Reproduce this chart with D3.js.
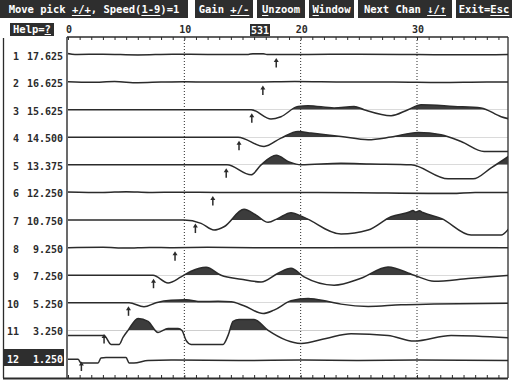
<!DOCTYPE html>
<html>
<head>
<meta charset="utf-8">
<script src="https://cdn.jsdelivr.net/npm/d3@7"></script>
<style>
  html, body { margin: 0; padding: 0; background: #fff; }
  svg { display: block; }
  text { font-family: "DejaVu Sans Mono", "Liberation Mono", monospace; font-weight: bold; }
</style>
</head>
<body>
<svg id="chart" width="512" height="388"></svg>
<script>
// Channel list, source offsets and picked first-arrival times
const channels = [1, 2, 3, 4, 5, 6, 7, 8, 9, 10, 11, 12];
const offsets = [17.625, 16.625, 15.625, 14.5, 13.375, 12.25, 10.75, 9.25, 7.25, 5.25, 3.25, 1.25];
const picks = [17.9, 16.75, 15.8, 14.7, 13.6, 12.45, 10.95, 9.2, 7.35, 5.2, 3.1, 1.15];
const selectedChannel = 12;
const cursorSample = 531;
const timeTicks = [0, 10, 20, 30];

// Trace samples: [time, amplitude] (positive = up)
const wave1 = [[0,1],[0.6,0],[3,0.3],[6,-0.4],[9,0.3],[12,0],[15.5,0],[15.9,0.8],[16.8,0.7],[17.1,0],[20,0],[25,0.3],[30,0],[34,-0.3],[38,0]];
const wave2 = [[0,0.4],[2,-0.2],[4,0.5],[6,-0.6],[8,0],[10,0.4],[12,0],[16,0],[19.5,0.5],[24,0],[28,0],[32,-0.5],[36,0],[38,0]];
const wave3 = [[0,0],[15.74,0],[17.45,-9.3],[18.31,-7],[19.78,3.3],[20.64,4],[22.87,1.7],[24.59,3.3],[25.45,0],[27.77,-6],[29.23,0],[30.35,5],[33.19,3.3],[35.51,1.7],[37.23,-7],[38,-9.5]];
const wave4 = [[0,0],[14.62,0],[16.85,-9.2],[18.31,-0.8],[19.78,5.8],[20.89,4.2],[23.47,0.8],[25.8,-2.5],[27.77,0.2],[30.1,4.8],[32.07,2.5],[33.79,-4.2],[35.77,-14.2],[38,-14.2]];
const wave5 = [[0,0],[13.67,0],[15.74,-10],[16.6,0],[17.9,9.5],[19.0,3],[20.03,0],[23.47,1.5],[26,0.8],[29.49,0],[32.67,-14],[34.82,-14],[36.37,-3],[38,9.5]];
const wave6 = [[0,0.5],[3,0],[5,0.8],[7,0],[10,0.3],[13,0],[20,0],[25,-0.3],[31,-1],[33,-1],[35,0],[38,0]];
const wave7 = [[0,0],[9.97,0],[11.44,-3.3],[12.55,-10],[13.41,-6.7],[15.13,10.7],[16.17,5],[17.2,-2.3],[18.06,1.7],[19.17,7.3],[20.29,2.7],[23.47,-14],[25.8,-10],[27.77,3.3],[29.4,8.3],[29.65,9.5],[29.9,8],[30.2,9.2],[30.5,7.5],[32.07,1.7],[34.65,-15],[37.23,-15],[38,-7]];
const wave8 = [[0,0],[3,0.3],[5,-0.4],[7,0.2],[9,0],[12,0.3],[16,0],[22,0],[30,0.2],[38,0]];
const wave9 = [[0,0],[7.31,0],[8.6,-7.7],[9.72,-1.7],[10.58,4],[11.87,8],[13.16,0],[14.88,-4],[16.6,-6.7],[18.06,2],[19.17,7],[20.29,-1.7],[22.87,-10],[25.19,-3],[27.51,8.3],[29.75,0],[31.47,-6],[34.39,-3.3],[38,0]];
const wave10 = [[0,0],[5.25,0],[6.53,-4],[7.57,0],[8.86,2.5],[10.15,3],[11.44,1.3],[12.9,1.5],[14.02,1],[15.13,-3],[16.77,-10.7],[17.71,-7.3],[19.17,2],[20.64,4.3],[22.36,1.3],[23.47,-1.3],[25.8,-3.7],[28.63,-2],[31.47,-1.3],[38,-0.5]];
const wave11 = [[0,-5],[3.1,-5],[3.7,-14],[4.39,-14],[4.73,-7],[5.16,0],[6.02,12],[6.88,9],[7.74,-2],[8.6,2],[9.46,2],[9.8,0],[10.15,-10],[10.58,-14],[13.33,-14],[13.76,-5],[14.19,9],[14.7,11],[15.99,11],[17.2,0],[20.03,-13],[22.18,-8],[24.33,-3.3],[27.51,-5],[29.75,-10.7],[32.93,-5],[38,-7.5]];
const wave12 = [[0,-1.3],[0.86,-1.3],[1.12,-5],[2.58,-5],[2.84,0],[3.27,0.4],[4.99,0.4],[5.25,-5],[5.67,-5],[6.88,-2.5],[8.86,-2],[15,-2.5],[20,-2],[25,-2.5],[30,-2],[38,-2.5]];
const waves = [wave1, wave2, wave3, wave4, wave5, wave6, wave7, wave8, wave9, wave10, wave11, wave12];

// Menu bar entries: label segments, underlined hot-key part flagged
const menuItems = [
  { x0: 0,   x1: 188, parts: [["Move pick ",0],["+/+",1],[", Speed(",0],["1-9",1],[")=1",0]] },
  { x0: 195, x1: 253, parts: [["Gain ",0],["+/-",1]] },
  { x0: 257, x1: 305, parts: [["U",1],["nzoom",0]] },
  { x0: 309, x1: 354, parts: [["W",1],["indow",0]] },
  { x0: 358, x1: 452, parts: [["Next Chan ",0],["↓/↑",1]] },
  { x0: 456, x1: 512, parts: [["Exit=",0],["Esc",1]] }
];

const svg = d3.select("#chart");
const ink = "#2b2b2b";
const plotL = 67, plotR = 508, plotT = 37, plotB = 378;

const x = d3.scaleLinear().domain([0, 30]).range([68, 417]);
const y = d3.scalePoint().domain(channels).range([54.5, 358]);
const amp = d3.scaleLinear().domain([0, 10]).range([0, -10]);

// ---- menu bar ----
const menuFont = 10.5, menuCh = menuFont * 0.602;
menuItems.forEach(item => {
  svg.append("rect").attr("x", item.x0).attr("y", 0)
    .attr("width", item.x1 - item.x0).attr("height", 18).attr("fill", "#2e2e2e");
  const nChars = item.parts.reduce((s, p) => s + [...p[0]].length, 0);
  let cx = item.x0 + ((item.x1 - item.x0) - nChars * menuCh) / 2;
  item.parts.forEach(([s, ul]) => {
    const len = [...s].length;
    svg.append("text").attr("x", cx).attr("y", 13).attr("fill", "#fff")
      .attr("font-size", menuFont).attr("xml:space", "preserve").text(s);
    if (ul) svg.append("line").attr("x1", cx).attr("x2", cx + len * menuCh)
      .attr("y1", 15.5).attr("y2", 15.5).attr("stroke", "#fff").attr("stroke-width", 1);
    cx += len * menuCh;
  });
});

// Help button
svg.append("rect").attr("x", 10).attr("y", 23).attr("width", 44).attr("height", 13).attr("fill", "#2e2e2e");
svg.append("text").attr("x", 13).attr("y", 33).attr("fill", "#fff").attr("font-size", menuFont).text("Help=?");
svg.append("line").attr("x1", 13 + 5 * menuCh).attr("x2", 13 + 6 * menuCh)
  .attr("y1", 34.5).attr("y2", 34.5).attr("stroke", "#fff");

// Sample cursor readout
svg.append("rect").attr("x", 250).attr("y", 24).attr("width", 20).attr("height", 12).attr("fill", "#2e2e2e");
svg.append("text").attr("x", 260).attr("y", 33.5).attr("text-anchor", "middle")
  .attr("fill", "#fff").attr("font-size", 10).text(cursorSample);

// ---- time axis labels and ticks ----
svg.selectAll("text.tlab").data(timeTicks).join("text").attr("class", "tlab")
  .attr("x", d => x(d) + 1).attr("y", 33).attr("text-anchor", "middle")
  .attr("font-size", 10).attr("fill", ink).text(d => d);

const minorTicks = d3.range(0, 38);
svg.append("g").attr("transform", `translate(0,${plotT})`)
  .call(d3.axisBottom(x).tickValues(minorTicks).tickSize(3).tickFormat(""))
  .call(g => g.select(".domain").remove())
  .call(g => g.selectAll("line").attr("stroke", ink));
svg.append("g").attr("transform", `translate(0,${plotB})`)
  .call(d3.axisTop(x).tickValues(minorTicks).tickSize(3).tickFormat(""))
  .call(g => g.select(".domain").remove())
  .call(g => g.selectAll("line").attr("stroke", ink));

// ---- frame ----
svg.append("line").attr("x1", plotL).attr("x2", plotR).attr("y1", plotT).attr("y2", plotT)
  .attr("stroke", ink).attr("stroke-width", 1.3);
svg.append("line").attr("x1", 3).attr("x2", plotR).attr("y1", plotB + 0.5).attr("y2", plotB + 0.5)
  .attr("stroke", ink).attr("stroke-width", 2);
svg.append("line").attr("x1", 3.5).attr("x2", 3.5).attr("y1", plotT + 1).attr("y2", plotB)
  .attr("stroke", ink).attr("stroke-width", 1.3);
svg.append("line").attr("x1", plotL).attr("x2", plotL).attr("y1", plotT).attr("y2", plotB)
  .attr("stroke", ink).attr("stroke-width", 1.4);
svg.append("line").attr("x1", plotR).attr("x2", plotR).attr("y1", plotT).attr("y2", plotB)
  .attr("stroke", ink).attr("stroke-width", 1.3);

// dotted time grid
svg.selectAll("line.grid").data(timeTicks.filter(d => d > 0)).join("line").attr("class", "grid")
  .attr("x1", d => x(d)).attr("x2", d => x(d)).attr("y1", plotT).attr("y2", plotB)
  .attr("stroke", ink).attr("stroke-width", 1).attr("stroke-dasharray", "1,2");

// ---- channel labels ----
const fmt = d3.format(".3f");
channels.forEach((c, i) => {
  const yy = y(c);
  const sel = c === selectedChannel;
  if (sel) svg.append("rect").attr("x", 3).attr("y", yy - 9).attr("width", 61).attr("height", 17).attr("fill", "#2e2e2e");
  const col = sel ? "#fff" : ink;
  svg.append("text").attr("x", 19).attr("y", yy + 5).attr("text-anchor", "end")
    .attr("font-size", 10).attr("fill", col).text(c);
  svg.append("text").attr("x", 63).attr("y", yy + 5).attr("text-anchor", "end")
    .attr("font-size", 10).attr("fill", col).text(fmt(offsets[i]));
});

// ---- traces (wiggle with filled positive lobes) ----
const defs = svg.append("defs");
defs.append("clipPath").attr("id", "plotClip").append("rect")
  .attr("x", plotL).attr("y", plotT).attr("width", plotR - plotL).attr("height", plotB - plotT);

const traces = svg.append("g").attr("clip-path", "url(#plotClip)");
waves.forEach((w, i) => {
  const base = y(channels[i]);
  const line = d3.line().x(d => x(d[0])).y(d => base + amp(d[1])).curve(d3.curveMonotoneX);
  const area = d3.area().x(d => x(d[0])).y0(base).y1(d => base + amp(d[1])).curve(d3.curveMonotoneX);
  const cid = "pos" + i;
  defs.append("clipPath").attr("id", cid).append("rect")
    .attr("x", plotL).attr("y", base - 25).attr("width", plotR - plotL).attr("height", 25);
  traces.append("path").datum(w).attr("d", area).attr("fill", "#3c3c3c")
    .attr("clip-path", `url(#${cid})`);
  traces.append("path").datum(w).attr("d", line).attr("fill", "none")
    .attr("stroke", ink).attr("stroke-width", 1.5);

  // pick arrow
  const px = x(picks[i]), top = base + 3.5;
  traces.append("path").attr("d", `M${px},${top} L${px - 2.5},${top + 4} L${px + 2.5},${top + 4} Z`).attr("fill", ink);
  traces.append("line").attr("x1", px).attr("x2", px).attr("y1", top + 3).attr("y2", top + 9.5)
    .attr("stroke", ink).attr("stroke-width", 1.5);
});
</script>
</body>
</html>
